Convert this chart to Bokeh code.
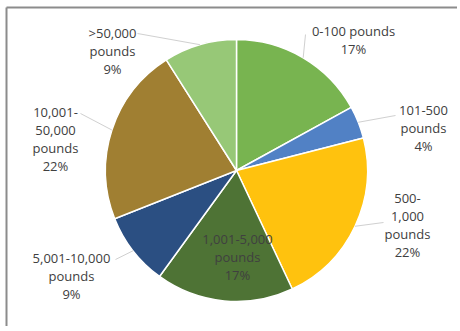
import math
from bokeh.plotting import figure
from bokeh.models import Range1d, ColumnDataSource
from bokeh.core.properties import value
from bokeh.embed import file_html
from bokeh.resources import INLINE

# ---- data ----
categories = ["0-100 pounds", "101-500 pounds", "500-1,000 pounds", "1,001-5,000 pounds",
              "5,001-10,000 pounds", "10,001-50,000 pounds", ">50,000 pounds"]
label_names = ["0-100 pounds", "101-500\npounds", "500-\n1,000\npounds", "1,001-5,000\npounds",
               "5,001-10,000\npounds", "10,001-\n50,000\npounds", ">50,000\npounds"]
shares = [17, 4, 22, 17, 9, 22, 9]
colors = ["#78b450", "#5181c5", "#ffc20e", "#4e7335", "#2b4f82", "#a07f32", "#97c877"]

# ---- layout / style ----
W, H = 460, 331
PW, PH = 457, 326  # figure size (slightly under window to avoid overflow)
CX, CY, R = 236, 170, 131
def Y(y):
    return H - y

# label block centres (image px) and leader end points (None = inside label)
label_pos = [(353, 39), (423, 127), (407, 224), (237, 256), (71, 275), (55, 138), (112, 50)]
leader_end = [(305, 34), (395, 115), (383, 222), None, (115, 259), (80, 113), (137, 33)]

total = float(sum(shares))
starts, ends, mids = [], [], []
cum = 0.0
for v in shares:
    a0 = math.pi / 2 - 2 * math.pi * cum / total
    cum += v
    a1 = math.pi / 2 - 2 * math.pi * cum / total
    starts.append(a0); ends.append(a1); mids.append((a0 + a1) / 2)

p = figure(width=PW, height=PH, x_range=Range1d(0, PW), y_range=Range1d(H - PH, H),
           output_backend="svg", toolbar_location=None, min_border=0,
           x_axis_type=None, y_axis_type=None)
p.outline_line_color = None
p.grid.visible = False
p.background_fill_color = "white"
p.border_fill_color = "white"

# chart frame (left and top edges visible)
p.segment(x0=[6, 6], y0=[Y(H - 2), Y(7)], x1=[6, PW], y1=[Y(7), Y(7)],
          line_color="#8c8c8c", line_width=2)

src = ColumnDataSource(dict(cat=categories, share=shares, start=starts, end=ends, color=colors))
p.wedge(x=CX, y=Y(CY), radius=R, start_angle="start", end_angle="end", direction="clock",
        fill_color="color", line_color="white", line_width=1.5, source=src)

# leader lines
lx, ly = [], []
for i, e in enumerate(leader_end):
    if e is None:
        continue
    sx = CX + R * math.cos(mids[i])
    sy = CY - R * math.sin(mids[i])
    lx.append([sx, e[0]]); ly.append([Y(sy), Y(e[1])])
p.multi_line(xs=lx, ys=ly, line_color="#d0d0d0", line_width=1)

texts = [f"{n}\n{v}%" for n, v in zip(label_names, shares)]
tsrc = ColumnDataSource(dict(x=[q[0] for q in label_pos], y=[Y(q[1]) for q in label_pos], t=texts))
p.text(x="x", y="y", text="t", source=tsrc, text_align="center", text_baseline="middle",
       text_font=value("Open Sans"), text_font_size="13px", text_color="#404040",
       text_line_height=1.0)

open("out.html", "w").write(file_html(p, INLINE))
